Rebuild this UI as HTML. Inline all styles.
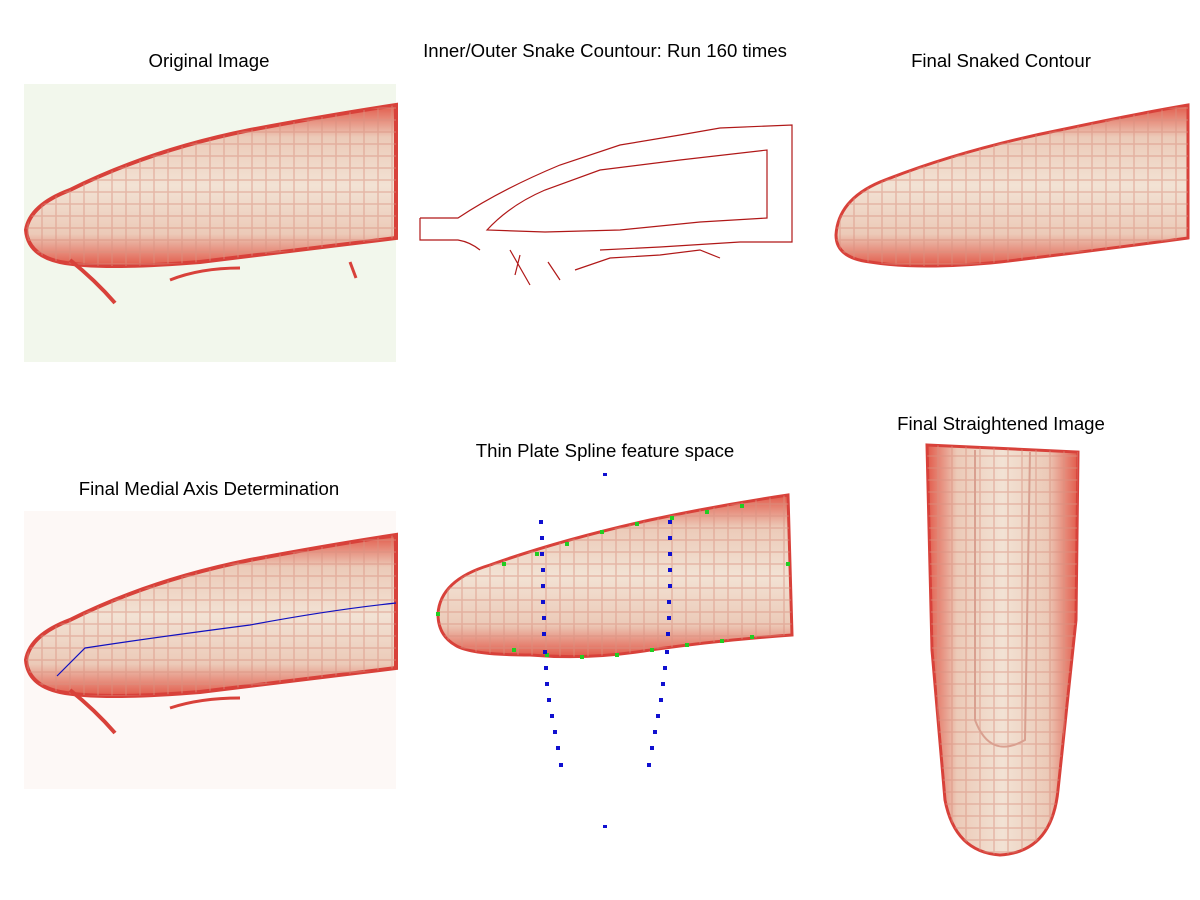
<!DOCTYPE html>
<html><head><meta charset="utf-8"><style>
body{margin:0;background:#fff;width:1200px;height:900px;overflow:hidden}
svg{display:block}
text{font-family:"Liberation Sans",sans-serif;font-size:18.6px;fill:#000;text-anchor:middle}
</style></head><body>
<svg width="1200" height="900" viewBox="0 0 1200 900" xmlns="http://www.w3.org/2000/svg">
<defs>
<pattern id="cells" width="14" height="12" patternUnits="userSpaceOnUse">
<rect width="14" height="12" fill="none" stroke="#d9907f" stroke-width="1.5"/>
</pattern>
<linearGradient id="rf" x1="0" y1="0" x2="0" y2="1">
<stop offset="0" stop-color="#e25a4a"/><stop offset="0.2" stop-color="#eccab8"/>
<stop offset="0.5" stop-color="#f2e2d4"/><stop offset="0.8" stop-color="#eccab8"/><stop offset="1" stop-color="#e25a4a"/>
</linearGradient>
<linearGradient id="sf" x1="0" y1="0" x2="1" y2="0">
<stop offset="0" stop-color="#e25a4a"/><stop offset="0.2" stop-color="#eccab8"/>
<stop offset="0.5" stop-color="#f2e2d4"/><stop offset="0.8" stop-color="#eccab8"/><stop offset="1" stop-color="#e25a4a"/>
</linearGradient>
</defs>

<text x="209" y="67">Original Image</text>
<text x="605" y="57">Inner/Outer Snake Countour: Run 160 times</text>
<text x="1001" y="67">Final Snaked Contour</text>
<text x="209" y="495">Final Medial Axis Determination</text>
<text x="605" y="457">Thin Plate Spline feature space</text>
<text x="1001" y="430">Final Straightened Image</text>

<!-- Panel 1 -->
<rect x="24" y="84" width="372" height="278" fill="#f2f7ec"/>
<path d="M26,230 Q30,205 70,190 Q150,150 250,130 Q330,115 396,105 L396,238 Q300,250 200,262 Q100,270 60,262 Q28,255 26,230Z" fill="url(#rf)" stroke="#d8413a" stroke-width="4"/>
<path d="M26,230 Q30,205 70,190 Q150,150 250,130 Q330,115 396,105 L396,238 Q300,250 200,262 Q100,270 60,262 Q28,255 26,230Z" fill="url(#cells)" opacity="0.5"/>
<path d="M70,260 Q95,280 115,303" stroke="#d8413a" stroke-width="4" fill="none"/>
<path d="M170,280 Q200,268 240,268" stroke="#d8413a" stroke-width="3" fill="none"/>
<path d="M350,262 L356,278" stroke="#d8413a" stroke-width="3" fill="none"/>

<!-- Panel 2 -->
<g fill="none" stroke="#b01818" stroke-width="1.2">
<path d="M420,218 L420,240 L458,240 Q470,242 480,250 M420,218 L458,218 Q500,190 560,165 L620,145 L680,135 L720,128 L792,125 L792,242 L740,242 L660,247 L600,250"/>
<path d="M487,230 Q510,205 545,190 L600,170 L680,160 L767,150 L767,218 L700,222 L620,230 L545,232 Z"/>
<path d="M510,250 L530,285 M520,255 L515,275 M575,270 L610,258 L660,255 L700,250 L720,258 M548,262 L560,280"/>
</g>

<!-- Panel 3 -->
<path d="M836,235 Q838,200 880,182 Q960,150 1060,130 Q1130,115 1188,105 L1188,238 Q1100,250 1000,262 Q920,270 870,262 Q836,258 836,235Z" fill="url(#rf)" stroke="#d8413a" stroke-width="3"/>
<path d="M836,235 Q838,200 880,182 Q960,150 1060,130 Q1130,115 1188,105 L1188,238 Q1100,250 1000,262 Q920,270 870,262 Q836,258 836,235Z" fill="url(#cells)" opacity="0.5"/>

<!-- Panel 4 -->
<rect x="24" y="511" width="372" height="278" fill="#fdf8f6"/>
<path d="M26,660 Q30,635 70,620 Q150,580 250,560 Q330,545 396,535 L396,668 Q300,680 200,692 Q100,700 60,692 Q28,685 26,660Z" fill="url(#rf)" stroke="#d8413a" stroke-width="4"/>
<path d="M26,660 Q30,635 70,620 Q150,580 250,560 Q330,545 396,535 L396,668 Q300,680 200,692 Q100,700 60,692 Q28,685 26,660Z" fill="url(#cells)" opacity="0.5"/>
<path d="M70,690 Q95,710 115,733" stroke="#d8413a" stroke-width="4" fill="none"/>
<path d="M170,708 Q200,698 240,698" stroke="#d8413a" stroke-width="3" fill="none"/>
<path d="M57,676 L85,648 Q150,638 250,625 Q330,610 396,603" stroke="#1010c0" stroke-width="1.2" fill="none"/>

<!-- Panel 5 -->
<path d="M438,614 Q440,580 490,565 Q560,540 650,520 Q720,505 788,495 L792,635 Q720,640 650,650 Q590,660 530,655 Q470,655 455,645 Q438,635 438,614Z" fill="url(#rf)" stroke="#d8413a" stroke-width="3"/>
<path d="M438,614 Q440,580 490,565 Q560,540 650,520 Q720,505 788,495 L792,635 Q720,640 650,650 Q590,660 530,655 Q470,655 455,645 Q438,635 438,614Z" fill="url(#cells)" opacity="0.5"/>
<g fill="#22cc22">
<rect x="436" y="612" width="4" height="4"/><rect x="502" y="562" width="4" height="4"/><rect x="535" y="552" width="4" height="4"/><rect x="565" y="542" width="4" height="4"/><rect x="600" y="530" width="4" height="4"/><rect x="635" y="522" width="4" height="4"/><rect x="670" y="516" width="4" height="4"/><rect x="705" y="510" width="4" height="4"/><rect x="740" y="504" width="4" height="4"/><rect x="786" y="562" width="4" height="4"/>
<rect x="512" y="648" width="4" height="4"/><rect x="545" y="653" width="4" height="4"/><rect x="580" y="655" width="4" height="4"/><rect x="615" y="653" width="4" height="4"/><rect x="650" y="648" width="4" height="4"/><rect x="685" y="643" width="4" height="4"/><rect x="720" y="639" width="4" height="4"/><rect x="750" y="635" width="4" height="4"/>
</g>
<g fill="#1010d0">
<rect x="603" y="473" width="4" height="3"/><rect x="603" y="825" width="4" height="3"/>
<rect x="539" y="520" width="4" height="4"/><rect x="540" y="536" width="4" height="4"/><rect x="540" y="552" width="4" height="4"/><rect x="541" y="568" width="4" height="4"/><rect x="541" y="584" width="4" height="4"/><rect x="541" y="600" width="4" height="4"/><rect x="542" y="616" width="4" height="4"/><rect x="542" y="632" width="4" height="4"/><rect x="543" y="650" width="4" height="4"/><rect x="544" y="666" width="4" height="4"/><rect x="545" y="682" width="4" height="4"/><rect x="547" y="698" width="4" height="4"/><rect x="550" y="714" width="4" height="4"/><rect x="553" y="730" width="4" height="4"/><rect x="556" y="746" width="4" height="4"/><rect x="559" y="763" width="4" height="4"/>
<rect x="668" y="520" width="4" height="4"/><rect x="668" y="536" width="4" height="4"/><rect x="668" y="552" width="4" height="4"/><rect x="668" y="568" width="4" height="4"/><rect x="668" y="584" width="4" height="4"/><rect x="667" y="600" width="4" height="4"/><rect x="667" y="616" width="4" height="4"/><rect x="666" y="632" width="4" height="4"/><rect x="665" y="650" width="4" height="4"/><rect x="663" y="666" width="4" height="4"/><rect x="661" y="682" width="4" height="4"/><rect x="659" y="698" width="4" height="4"/><rect x="656" y="714" width="4" height="4"/><rect x="653" y="730" width="4" height="4"/><rect x="650" y="746" width="4" height="4"/><rect x="647" y="763" width="4" height="4"/>
</g>

<!-- Panel 6 -->
<path d="M927,445 L1078,452 L1076,620 L1058,790 Q1052,852 1000,855 Q955,852 945,800 L932,650 Z" fill="url(#sf)" stroke="#d8413a" stroke-width="3"/>
<path d="M927,445 L1078,452 L1076,620 L1058,790 Q1052,852 1000,855 Q955,852 945,800 L932,650 Z" fill="url(#cells)" opacity="0.5"/>
<path d="M975,450 L975,720 Q990,760 1025,740 L1030,452" fill="none" stroke="#d9a090" stroke-width="2"/>
</svg>
</body></html>
